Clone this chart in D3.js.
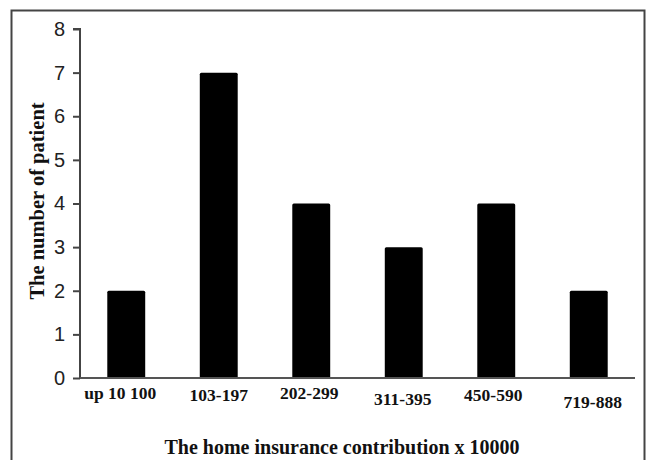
<!DOCTYPE html>
<html><head><meta charset="utf-8">
<script src="https://cdn.jsdelivr.net/npm/d3@7/dist/d3.min.js"></script>
<style>html,body{margin:0;padding:0;background:#fff;}svg{display:block;}</style>
</head><body>
<svg id="chart" width="647" height="460"></svg>
<script>
const categories = ["up 10 100", "103-197", "202-299", "311-395", "450-590", "719-888"];
const patients = [2, 7, 4, 3, 4, 2];
const yTicks = [0, 1, 2, 3, 4, 5, 6, 7, 8];
const xTitle = "The home insurance contribution x 10000";
const yTitle = "The number of patient";
// per-label nudges (layout only), as in the original scan
const labelNudge = [0, 2, 0, 6, 2, 9];
const labelShift = [-6, 0, -2, -1, -3, 4];

const svg = d3.select("#chart");
const left = 80, right = 635;

// frame
svg.append("rect").attr("x", 11.5).attr("y", 10.5).attr("width", 633).attr("height", 460)
  .attr("fill", "none").attr("stroke", "#444").attr("stroke-width", 2);

const x = d3.scaleBand().domain(categories).range([left, right]).paddingInner(0.59).paddingOuter(0.295);
const y = d3.scaleLinear().domain([0, 8]).range([378, 29]);

svg.selectAll("rect.bar").data(patients).join("rect").attr("class", "bar")
  .attr("x", (d, i) => x(categories[i]))
  .attr("width", x.bandwidth())
  .attr("y", d => y(d))
  .attr("height", d => y(0) - y(d))
  .attr("rx", 1.5)
  .attr("fill", "#000");

const yAxis = svg.append("g").attr("transform", `translate(${left},0)`)
  .call(d3.axisLeft(y).tickValues(yTicks).tickSize(7).tickPadding(8).tickFormat(d3.format("d")));
yAxis.select(".domain").attr("stroke", "#444").attr("stroke-width", 2).attr("d", `M-7,${y(8)}H0V${y(0)}`);
yAxis.selectAll(".tick line").attr("stroke", "#444").attr("stroke-width", 2);
yAxis.selectAll(".tick text").attr("font-family", "Liberation Sans, Arial, sans-serif").attr("font-size", 20).attr("fill", "#222");

const xAxis = svg.append("g").attr("transform", `translate(0,${y(0)})`)
  .call(d3.axisBottom(x).tickSize(0).tickPadding(0));
xAxis.select(".domain").attr("stroke", "#555").attr("stroke-width", 2).attr("d", `M${left},0H${right}`);
xAxis.selectAll(".tick text")
  .attr("font-family", "Liberation Serif, Times New Roman, serif")
  .attr("font-weight", "bold").attr("font-size", 17.5).attr("fill", "#111")
  .attr("dy", null)
  .attr("y", (d, i) => 21 + labelNudge[i])
  .attr("x", (d, i) => labelShift[i]);

svg.append("text").attr("x", 342).attr("y", 454).attr("text-anchor", "middle")
  .attr("font-family", "Liberation Serif, Times New Roman, serif").attr("font-weight", "bold")
  .attr("font-size", 20).attr("fill", "#111").text(xTitle);

svg.append("text").attr("transform", `translate(44,201) rotate(-90)`).attr("text-anchor", "middle")
  .attr("font-family", "Liberation Serif, Times New Roman, serif").attr("font-weight", "bold")
  .attr("font-size", 20.5).attr("fill", "#111").text(yTitle);
</script>
</body></html>
